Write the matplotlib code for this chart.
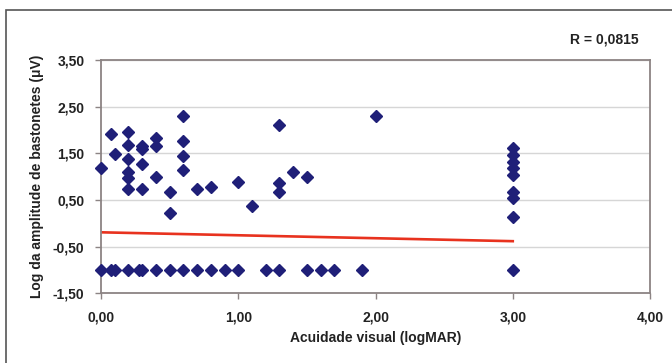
"""Scatter of rod amplitude vs visual acuity."""

import matplotlib.pyplot as plt
from matplotlib.patches import Rectangle
from matplotlib.ticker import FixedLocator

plt.rcParams["font.family"] = ["Liberation Sans", "DejaVu Sans"]
plt.rcParams["font.weight"] = "bold"

# acuidade visual (logMAR) e log da amplitude
acuity = [
    0.0, 0.07, 0.1, 0.2, 0.2, 0.2, 0.2, 0.2, 0.2, 0.3, 0.3, 0.3, 0.3,
    0.4, 0.4, 0.4, 0.5, 0.5, 0.6, 0.6, 0.6, 0.6, 0.7, 0.8, 1.0, 1.1,
    1.3, 1.3, 1.3, 1.4, 1.5, 2.0,
    3.0, 3.0, 3.0, 3.0, 3.0, 3.0, 3.0, 3.0,
]
amplitude = [
    1.19, 1.91, 1.48, 1.96, 1.68, 1.38, 1.10, 0.98, 0.73, 1.66, 1.60, 1.27, 0.73,
    1.84, 1.66, 1.00, 0.68, 0.23, 2.30, 1.77, 1.45, 1.14, 0.73, 0.77, 0.88, 0.38,
    2.11, 0.86, 0.68, 1.11, 1.00, 2.30,
    1.61, 1.47, 1.32, 1.18, 1.04, 0.68, 0.54, 0.14,
]
# pontos sem resposta (log = -1,0)
acuity_flat = [
    0.0, 0.07, 0.1, 0.2, 0.28, 0.3, 0.4, 0.5, 0.6, 0.7, 0.8, 0.9, 1.0,
    1.2, 1.3, 1.5, 1.6, 1.7, 1.9, 3.0,
]
amplitude_flat = [-1.0] * len(acuity_flat)

trend_x = [0.0, 3.0]
trend_y = [-0.19, -0.38]

x_ticks = [0, 1, 2, 3, 4]
x_tick_labels = ["0,00", "1,00", "2,00", "3,00", "4,00"]
y_ticks = [-1.5, -0.5, 0.5, 1.5, 2.5, 3.5]
y_tick_labels = ["-1,50", "-0,50", "0,50", "1,50", "2,50", "3,50"]

fig = plt.figure(figsize=(6.72, 3.63), dpi=100)
ax = fig.add_axes([0.1503, 0.1915, 0.8170, 0.6432])

# moldura externa
fig.patches.append(
    Rectangle((6 / 672, -0.1), 1.2, 1 - 10 / 363 + 0.1, transform=fig.transFigure,
              fill=False, edgecolor="#555555", linewidth=1.2)
)

marker_color = "#1f1f78"
ax.plot(acuity, amplitude, "D", color=marker_color, markersize=6.5, zorder=3, clip_on=False)
ax.plot(acuity_flat, amplitude_flat, "D", color=marker_color, markersize=6.5, zorder=3, clip_on=False)
ax.plot(trend_x, trend_y, color="#e8321e", linewidth=1.9, zorder=2)

ax.set_xlim(0, 4)
ax.set_ylim(-1.5, 3.5)
ax.xaxis.set_major_locator(FixedLocator(x_ticks))
ax.yaxis.set_major_locator(FixedLocator(y_ticks))
ax.set_xticklabels(x_tick_labels)
ax.set_yticklabels(y_tick_labels)
ax.tick_params(labelsize=10, colors="#8c8484", labelcolor="#222222", length=4, width=1)
ax.tick_params(axis="x", pad=8)
ax.tick_params(axis="y", pad=8)
ax.grid(axis="y", color="#d6d6d6", linewidth=1)
ax.set_axisbelow(True)
for spine in ax.spines.values():
    spine.set_color("#8c8484")
    spine.set_linewidth(1.3)

ax.set_xlabel("Acuidade visual (logMAR)", fontsize=10, fontweight="bold", color="#222222", labelpad=5)
ax.set_ylabel("Log da amplitude de bastonetes (μV)", fontsize=10, fontweight="bold", color="#222222", labelpad=6)

fig.text(0.9508, 0.89, "R = 0,0815", ha="right", va="center", fontsize=10, fontweight="bold", color="#222222")

fig.savefig("out.png", dpi=100)
plt.close(fig)
